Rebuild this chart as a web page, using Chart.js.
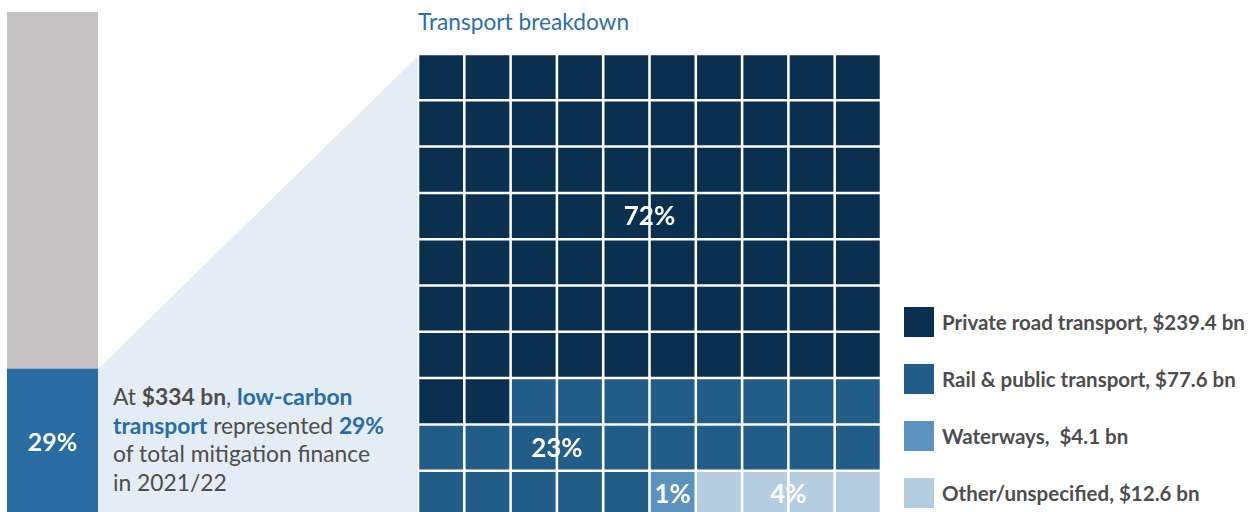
<!DOCTYPE html>
<html>
<head>
<meta charset="utf-8">
<script src="https://cdn.jsdelivr.net/npm/chart.js@4"></script>
<style>
  html, body { margin:0; padding:0; width:1255px; height:512px; overflow:hidden; background:#fff; font-family: Lato, "Open Sans", sans-serif; }
  .abs { position:absolute; }
  #funnel { left:98px; top:0; width:321px; height:512px; background:#e4edf5;
    clip-path: polygon(0px 369px, 321px 55px, 321px 512px, 0px 512px); }
  #title { left:418px; top:8px; font-size:22.7px; line-height:28px; color:#2f6fa8; white-space:nowrap; }
  #note { left:113px; top:382px; font-size:22.8px; line-height:28.5px; color:#4d4d4d; white-space:nowrap; }
  #note b { font-weight:700; }
  #note .hl { color:#2a6ca4; font-weight:700; }
  .leg { position:absolute; left:904px; height:30px; display:flex; align-items:center; white-space:nowrap; }
  .leg .sw { width:30px; height:30px; margin-right:8px; }
  .leg .tx { font-size:20.5px; font-weight:700; color:#4d4d4d; white-space:pre; }
</style>
</head>
<body>
<div id="funnel" class="abs"></div>
<div class="abs" style="left:7px;top:12px;width:91px;height:503px;"><canvas id="leftBar"></canvas></div>
<div id="title" class="abs">Transport breakdown</div>
<div class="abs" style="left:417.5px;top:53.5px;width:463px;height:463px;"><canvas id="waffle"></canvas></div>
<div id="note" class="abs">At <b>$334 bn</b>, <span class="hl">low-carbon</span><br><span class="hl">transport</span> represented <span class="hl">29%</span><br>of total mitigation finance<br>in 2021/22</div>
<div id="legend"></div>
<script>
// ---- data ----
const totalShareLabels = ['Low-carbon transport', 'Other mitigation finance'];
const totalShareValues = [29, 71];
const totalShareColors = ['#286ca2', '#c4c2c3'];

const categories = ['Private road transport', 'Rail & public transport', 'Waterways', 'Other/unspecified'];
const amountsBn = ['$239.4 bn', '$77.6 bn', ' $4.1 bn', '$12.6 bn'];
const cellCounts = [72, 23, 1, 4];
const percentLabels = ['72%', '23%', '1%', '4%'];
const categoryColors = ['#0b2f4f', '#225c89', '#5b93be', '#b5cde0'];
// label anchor in grid units (column, row from top)
const labelAnchors = [[5, 3.5], [3, 8.5], [5.5, 9.5], [8, 9.5]];

const GRID = 10;

// ---- left stacked bar ----
new Chart(document.getElementById('leftBar'), {
  type: 'bar',
  data: {
    labels: [''],
    datasets: totalShareValues.map((v, i) => ({
      label: totalShareLabels[i], data: [v], backgroundColor: totalShareColors[i],
      borderWidth: 0, barPercentage: 1, categoryPercentage: 1
    }))
  },
  options: {
    responsive: true, maintainAspectRatio: false, animation: false,
    layout: { padding: 0 },
    plugins: { legend: { display: false }, tooltip: { enabled: false } },
    scales: {
      x: { stacked: true, display: false },
      y: { stacked: true, display: false, min: 0, max: 100 }
    }
  },
  plugins: [{
    id: 'pct',
    afterDatasetsDraw(chart) {
      const el = chart.getDatasetMeta(0).data[0];
      const ctx = chart.ctx;
      ctx.save();
      ctx.fillStyle = '#fff';
      ctx.font = 'bold 25px Lato, "Open Sans", sans-serif';
      ctx.textAlign = 'center'; ctx.textBaseline = 'middle';
      ctx.fillText(totalShareValues[0] + '%', el.x, chart.scales.y.getPixelForValue(totalShareValues[0] / 2) + 1);
      ctx.restore();
    }
  }]
});

// ---- waffle ----
const cellCat = [];
cellCounts.forEach((n, c) => { for (let k = 0; k < n; k++) cellCat.push(c); });

const cols = Array.from({length: GRID}, (_, i) => String(i + 1));
const rowsDatasets = [];
for (let r = GRID - 1; r >= 0; r--) { // bottom row first in stack
  rowsDatasets.push({
    label: 'row ' + (r + 1),
    data: cols.map(() => 1),
    backgroundColor: cols.map((_, c) => categoryColors[cellCat[r * GRID + c]]),
    borderColor: '#ffffff',
    borderWidth: 1.6,
    borderSkipped: false,
    barPercentage: 1, categoryPercentage: 1
  });
}

new Chart(document.getElementById('waffle'), {
  type: 'bar',
  data: { labels: cols, datasets: rowsDatasets },
  options: {
    responsive: true, maintainAspectRatio: false, animation: false,
    layout: { padding: 0 },
    plugins: { legend: { display: false }, tooltip: { enabled: false } },
    scales: {
      x: { stacked: true, display: false },
      y: { stacked: true, display: false, min: 0, max: GRID }
    }
  },
  plugins: [{
    id: 'waffleLabels',
    afterDatasetsDraw(chart) {
      const ctx = chart.ctx, xs = chart.scales.x, ys = chart.scales.y;
      const cw = (xs.right - xs.left) / GRID;
      ctx.save();
      ctx.fillStyle = '#fff';
      ctx.font = 'bold 26px Lato, "Open Sans", sans-serif';
      ctx.textAlign = 'center'; ctx.textBaseline = 'middle';
      percentLabels.forEach((t, i) => {
        const [c, r] = labelAnchors[i];
        const px = xs.left + c * cw;
        const py = ys.getPixelForValue(GRID - r);
        ctx.fillText(t, px, py + 1);
      });
      ctx.restore();
    }
  }]
});

// ---- legend ----
const legendTops = [307, 364, 421, 478];
const leg = document.getElementById('legend');
categories.forEach((c, i) => {
  const d = document.createElement('div');
  d.className = 'leg';
  d.style.top = legendTops[i] + 'px';
  d.innerHTML = '<div class="sw" style="background:' + categoryColors[i] + '"></div><div class="tx">' + c + ', ' + amountsBn[i] + '</div>';
  leg.appendChild(d);
});
</script>
</body>
</html>
